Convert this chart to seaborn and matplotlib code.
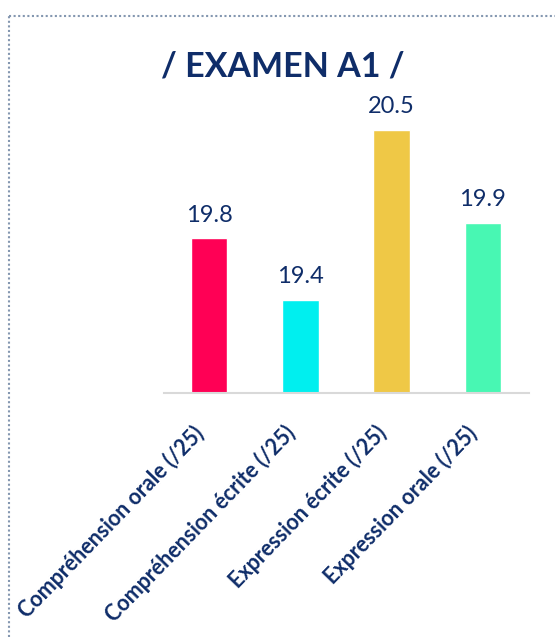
import matplotlib
matplotlib.use("Agg")
import matplotlib.pyplot as plt
import matplotlib.transforms as mtransforms
from matplotlib.lines import Line2D
import seaborn as sns
import pandas as pd

CATEGORIES = ["Compréhension orale (/25)", "Compréhension écrite (/25)",
              "Expression écrite (/25)", "Expression orale (/25)"]
SCORES = [19.8, 19.4, 20.5, 19.9]
COLORS = ["#FF0055", "#00EFEF", "#EFC846", "#48F7B3"]
TITLE = "/ EXAMEN A1 /"

NAVY = "#0F2D69"
FONT = ["Lato", "DejaVu Sans"]

sns.set_theme(style="white")
plt.rcParams["font.family"] = FONT

W, H = 555, 637
fig = plt.figure(figsize=(W / 100, H / 100), dpi=100)
ax = fig.add_axes([163.5 / W, 1 - 393 / H, 365 / W, 293.6 / H])

df = pd.DataFrame({"cat": CATEGORIES, "score": SCORES})
sns.barplot(data=df, x="cat", y="score", hue="cat", palette=COLORS,
            width=0.4, legend=False, ax=ax, saturation=1)
ax.set_ylim(18.8, 20.7)
ax.set_xlim(-0.5, len(CATEGORIES) - 0.5)
ax.set_xlabel("")
ax.set_ylabel("")
ax.set_yticks([])
for s in ["top", "left", "right"]:
    ax.spines[s].set_visible(False)
ax.spines["bottom"].set_color("#D9D9D9")
ax.spines["bottom"].set_linewidth(1.5)

ax.tick_params(axis="x", length=0, pad=14)
ax.set_xticks(range(len(CATEGORIES)))
ax.set_xticklabels(CATEGORIES, rotation=46, ha="right", rotation_mode="anchor",
                   fontsize=15.5, fontweight="bold", color=NAVY)
shift = mtransforms.ScaledTranslation(-9 / 100, -17 / 100, fig.dpi_scale_trans)
for lbl in ax.get_xticklabels():
    lbl.set_va("center")
    lbl.set_transform(lbl.get_transform() + shift)

for i, v in enumerate(SCORES):
    ax.annotate(f"{v}", (i, v), xytext=(0, 12.2), textcoords="offset points",
                ha="center", va="baseline", fontsize=17, color=NAVY)

fig.text(283 / W, 1 - 76 / H, TITLE, ha="center", va="baseline",
         fontsize=24.5, fontweight="bold", color=NAVY)

# dotted frame (left and top edges visible)
fig.add_artist(Line2D([9 / W, 9 / W], [0, 1 - 16 / H], transform=fig.transFigure,
                      color="#8497B0", lw=1.5, ls=(0, (1, 1.2))))
fig.add_artist(Line2D([9 / W, 1], [1 - 16 / H, 1 - 16 / H], transform=fig.transFigure,
                      color="#8497B0", lw=1.5, ls=(0, (1, 1.2))))

fig.savefig("out.png", dpi=100)
